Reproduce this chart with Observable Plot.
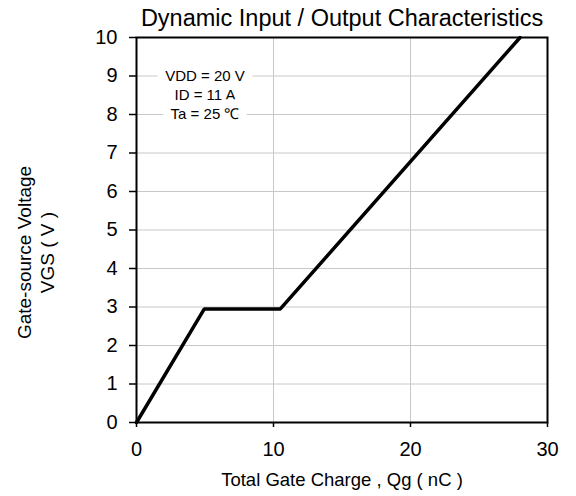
<!DOCTYPE html>
<html><head><meta charset="utf-8">
<script src="https://cdn.jsdelivr.net/npm/d3@7"></script>
<script src="https://cdn.jsdelivr.net/npm/@observablehq/plot@0.6"></script>
<style>body{margin:0;background:#fff} svg{font-family:"Liberation Sans",Arial,sans-serif;}</style>
</head><body><div id="chart"></div>
<script>
const title = "Dynamic Input / Output Characteristics";
const xLabel = "Total Gate Charge , Qg ( nC )";
const yLabelLines = ["Gate-source Voltage", "VGS ( V )"];
const qg = [0, 4.95, 10.5, 28.0];
const vgs = [0, 2.95, 2.95, 10];
const xTicks = [0, 10, 20, 30];
const yTicks = [0, 1, 2, 3, 4, 5, 6, 7, 8, 9, 10];
const noteLines = ["VDD = 20 V", "ID = 11 A", "Ta = 25 ℃"];
const noteX = [5, 5, 5];
const noteY = [9, 8.5, 8];

const chart = Plot.plot({
  width: 576, height: 496,
  marginLeft: 136, marginRight: 29, marginTop: 37, marginBottom: 74,
  style: {fontFamily: '"Liberation Sans", Arial, sans-serif', background: "white", color: "black"},
  x: {domain: [0, 30]},
  y: {domain: [0, 10]},
  marks: [
    Plot.gridX(xTicks, {stroke: "#c8c8c8", strokeOpacity: 1}),
    Plot.gridY(yTicks, {stroke: "#c8c8c8", strokeOpacity: 1}),
    Plot.text(noteLines, {x: (d, i) => noteX[i], y: (d, i) => noteY[i], text: d => d,
      fontSize: 15, fill: "black", stroke: "white", strokeWidth: 18, lineAnchor: "middle"}),
    Plot.line(qg.map((q, i) => ({q, v: vgs[i]})), {x: "q", y: "v", stroke: "black", strokeWidth: 3.5, strokeLinejoin: "miter"}),
    Plot.frame({stroke: "black", strokeWidth: 2}),
    Plot.axisX(xTicks, {tickSize: 5, tickPadding: 14, fontSize: 20, label: null, strokeWidth: 1.5}),
    Plot.axisY(yTicks, {tickSize: 7, tickPadding: 12, fontSize: 20, label: null, strokeWidth: 1.5}),
    Plot.text([title], {frameAnchor: "top", lineAnchor: "middle", dy: -19, fontSize: 23.5, fill: "black"}),
    Plot.text([xLabel], {frameAnchor: "bottom", lineAnchor: "middle", dy: 58, fontSize: 18.5, fill: "black"}),
    Plot.text([yLabelLines[0]], {frameAnchor: "left", textAnchor: "middle", lineAnchor: "middle", rotate: -90, dx: -112, dy: 22.5, fontSize: 19, fill: "black"}),
    Plot.text([yLabelLines[1]], {frameAnchor: "left", textAnchor: "middle", lineAnchor: "middle", rotate: -90, dx: -89, dy: 22.5, fontSize: 19, fill: "black"})
  ]
});
document.getElementById("chart").appendChild(chart);
</script>
</body></html>
